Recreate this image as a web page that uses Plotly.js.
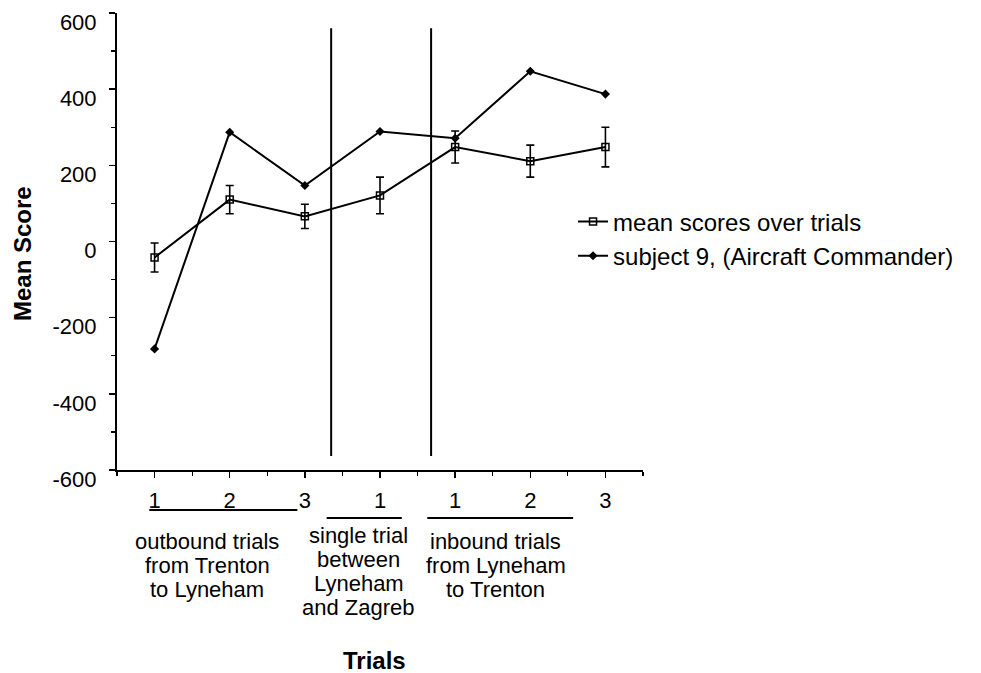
<!DOCTYPE html>
<html>
<head>
<meta charset="utf-8">
<script src="https://cdn.plot.ly/plotly-3.0.1.min.js"></script>
<style>html,body{margin:0;padding:0;background:#fff;}#chart{width:981px;height:673px;}</style>
</head>
<body>
<div id="chart"></div>
<script>
// Data
const trialPositions = [0, 1, 2, 3, 4, 5, 6];
const trialLabels = ["1", "2", "3", "1", "1", "2", "3"];
const meanScores = [-42, 110, 66, 121, 248, 211, 248];
const meanErrors = [38, 37, 32, 48, 42, 42, 52];
const subject9Scores = [-282, 287, 147, 289, 271, 447, 387];
const seriesNames = ["mean scores over trials", "subject 9, (Aircraft Commander)"];
const yTickValues = [-600, -400, -200, 0, 200, 400, 600];
const yTickLabels = ["-600", "-400", "-200", "0", "200", "400", "600"];
const separators = [2.35, 3.68];
const groupLines = [
  ["outbound trials", "from Trenton", "to Lyneham"],
  ["single trial", "between", "Lyneham", "and Zagreb"],
  ["inbound trials", "from Lyneham", "to Trenton"]
];
const groupSpans = [[-0.07, 1.9], [2.29, 3.29], [3.63, 5.57]];
const groupCenters = [0.70, 2.72, 4.54];

const FONT = "Liberation Sans, Arial, Helvetica, sans-serif";
const PLOT_BOTTOM = 470, PLOT_H = 457;
const py = px => -(px - PLOT_BOTTOM) / PLOT_H;  // pixel row -> paper y

const traces = [
  {
    x: trialPositions, y: meanScores, name: seriesNames[0],
    type: "scatter", mode: "lines+markers",
    line: {color: "#000", width: 2},
    marker: {symbol: "square-open", size: 7, color: "#000", line: {width: 1.5}},
    error_y: {type: "data", array: meanErrors, visible: true, color: "#000", thickness: 1.6, width: 4}
  },
  {
    x: trialPositions, y: subject9Scores, name: seriesNames[1],
    type: "scatter", mode: "lines+markers",
    line: {color: "#000", width: 2},
    marker: {symbol: "diamond", size: 7, color: "#000"}
  }
];

const shapes = separators.map(s => ({
  type: "line", xref: "x", yref: "y", x0: s, x1: s, y0: -563, y1: 560,
  line: {color: "#000", width: 2}
}));
const underlineRows = [510, 518, 518];
groupSpans.forEach((g, i) => {
  shapes.push({type: "line", xref: "x", yref: "paper", x0: g[0], x1: g[1],
    y0: py(underlineRows[i]), y1: py(underlineRows[i]),
    line: {color: "#000", width: 2}});
});

const firstLineRow = [541, 535, 541];
const annotations = [];
groupLines.forEach((lines, i) => {
  lines.forEach((t, j) => {
    annotations.push({
      text: t, x: groupCenters[i], xref: "x", yref: "paper",
      y: py(firstLineRow[i] + 24 * j), yanchor: "middle", xanchor: "center",
      showarrow: false, font: {family: FONT, size: 22, color: "#000"}
    });
  });
});
annotations.push({
  text: "<b>Trials</b>", xref: "paper", yref: "paper",
  x: (374 - 117) / 526, y: py(660), xanchor: "center", yanchor: "middle",
  showarrow: false, font: {family: FONT, size: 24, color: "#000"}
});
annotations.push({
  text: "<b>Mean Score</b>", xref: "paper", yref: "paper", textangle: -90,
  x: (22 - 117) / 526, y: py(254), xanchor: "center", yanchor: "middle",
  showarrow: false, font: {family: FONT, size: 24, color: "#000"}
});

const layout = {
  width: 981, height: 673,
  margin: {l: 117, r: 338, t: 13, b: 203},
  paper_bgcolor: "#fff", plot_bgcolor: "#fff",
  font: {family: FONT, size: 22, color: "#000"},
  showlegend: true,
  legend: {x: 0.867, y: 0.592, xanchor: "left", yanchor: "top",
    font: {family: FONT, size: 24, color: "#000"}, bgcolor: "rgba(0,0,0,0)",
    tracegroupgap: 0},
  xaxis: {
    range: [-0.5, 6.5], tickmode: "array", tickvals: trialPositions, ticktext: trialLabels,
    showgrid: false, zeroline: false, showline: true, linecolor: "#000", linewidth: 2,
    ticks: "outside", ticklen: 6, tickwidth: 1.5, tickcolor: "#000",
    ticklabelstandoff: 4,
    minor: {tickmode: "array", tickvals: [-0.5, 0.5, 1.5, 2.5, 3.5, 4.5, 5.5, 6.5], ticks: "outside", ticklen: 4, tickwidth: 1.2, tickcolor: "#000"},
    tickfont: {family: FONT, size: 22, color: "#000"}
  },
  yaxis: {
    range: [-600, 600], tickmode: "array", tickvals: yTickValues, ticktext: yTickLabels,
    showgrid: false, zeroline: false, showline: true, linecolor: "#000", linewidth: 2,
    ticks: "outside", ticklen: 6, tickwidth: 1.5, tickcolor: "#000",
    ticklabelstandoff: 8, ticklabelshift: 9,
    minor: {tickmode: "linear", tick0: -600, dtick: 100, ticks: "outside", ticklen: 4, tickwidth: 1.2, tickcolor: "#000"},
    tickfont: {family: FONT, size: 22, color: "#000"}
  },
  shapes: shapes,
  annotations: annotations
};

Plotly.newPlot("chart", traces, layout, {displayModeBar: false, staticPlot: true});
</script>
</body>
</html>
